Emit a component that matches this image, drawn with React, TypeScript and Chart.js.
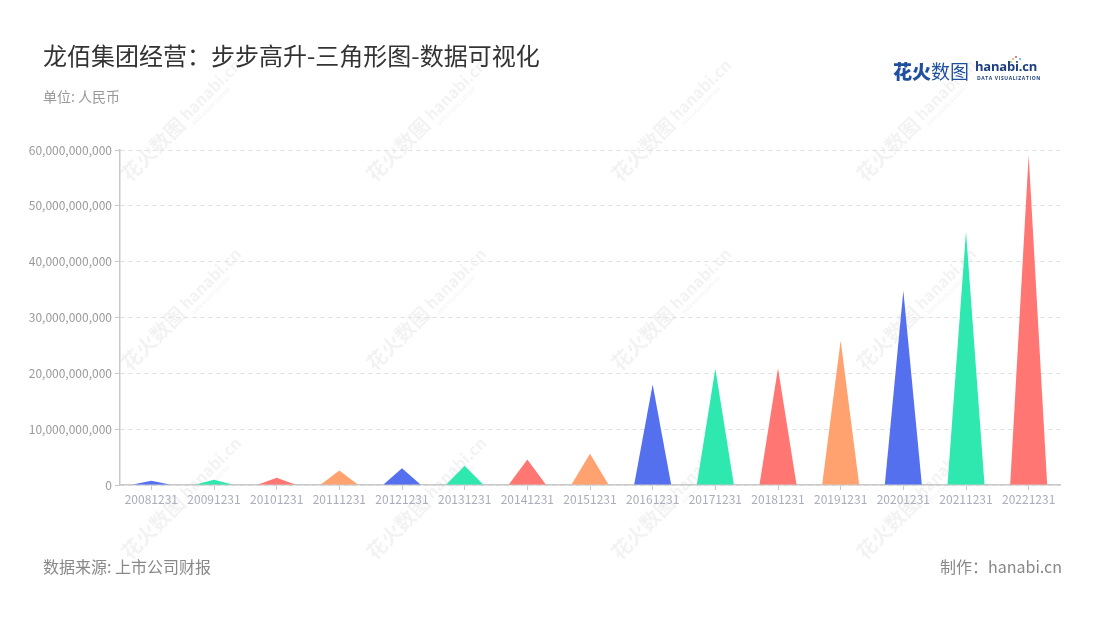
import React, { useEffect, useRef } from "react";
import { Chart, registerables } from "chart.js";

Chart.register(...registerables);

const categories = [
  "20081231", "20091231", "20101231", "20111231", "20121231",
  "20131231", "20141231", "20151231", "20161231", "20171231",
  "20181231", "20191231", "20201231", "20211231", "20221231",
];
const revenue = [
  0.78e9, 0.95e9, 1.3e9, 2.6e9, 3.0e9,
  3.45e9, 4.55e9, 5.6e9, 18.0e9, 20.8e9,
  20.9e9, 25.9e9, 34.8e9, 45.4e9, 59.1e9,
];
const palette = ["#5470ef", "#2ee8af", "#ff7672", "#ffa26f"];
const yMax = 60e9;
const yStep = 10e9;

const FONT = '"Noto Sans CJK SC", "Noto Sans", sans-serif';

const trianglePlugin = {
  id: "triangles",
  afterDatasetsDraw(chart: any) {
    const ctx = chart.ctx;
    const meta = chart.getDatasetMeta(0);
    ctx.save();
    meta.data.forEach((el: any, i: number) => {
      const p = el.getProps(["x", "y", "base", "width"], true);
      ctx.beginPath();
      ctx.moveTo(p.x - p.width / 2, p.base);
      ctx.lineTo(p.x, p.y);
      ctx.lineTo(p.x + p.width / 2, p.base);
      ctx.closePath();
      ctx.fillStyle = palette[i % palette.length];
      ctx.fill();
    });
    ctx.restore();
  },
};

const watermarkPlugin = {
  id: "watermark",
  beforeDraw(chart: any) {
    const ctx = chart.ctx;
    ctx.save();
    const xs = [130, 375, 620, 865];
    const ys = [183, 372, 561];
    ctx.fillStyle = "rgba(0,0,0,0.05)";
    ctx.textBaseline = "alphabetic";
    xs.forEach((x) => {
      ys.forEach((y) => {
        ctx.save();
        ctx.translate(x, y);
        ctx.rotate(-Math.PI / 4);
        ctx.font = `bold 20px ${FONT}`;
        ctx.fillText("花火数图", 0, 0);
        const w = ctx.measureText("花火数图").width;
        ctx.font = `bold 16px ${FONT}`;
        ctx.fillText("hanabi.cn", w + 4, -3);
        ctx.font = `bold 5px ${FONT}`;
        ctx.fillText("DATA VISUALIZATION", w + 6, 5);
        ctx.restore();
      });
    });
    ctx.restore();
  },
};

export default function App() {
  const canvasRef = useRef<HTMLCanvasElement | null>(null);

  useEffect(() => {
    if (!canvasRef.current) return;
    const chart = new Chart(canvasRef.current, {
      type: "bar",
      data: {
        labels: categories,
        datasets: [
          {
            data: revenue,
            backgroundColor: "rgba(0,0,0,0)",
            borderWidth: 0,
            barPercentage: 0.59,
            categoryPercentage: 1,
          },
        ],
      },
      options: {
        responsive: false,
        animation: false,
        layout: { padding: { left: 0, top: 150, right: 40, bottom: 0 } },
        plugins: {
          legend: { display: false },
          tooltip: { enabled: false },
        },
        scales: {
          x: {
            offset: true,
            grid: {
              offset: false,
              drawOnChartArea: false,
              drawTicks: true,
              tickLength: 5,
              tickColor: "#c8c8c8",
              tickWidth: 1,
            },
            border: { color: "#c8c8c8", width: 1.5 },
            ticks: {
              color: "#a9adbb",
              font: { family: FONT, size: 12 },
              padding: 2,
              maxRotation: 0,
              autoSkip: false,
            },
            afterFit(scale: any) {
              scale.height = 135;
            },
          },
          y: {
            min: 0,
            max: yMax,
            ticks: {
              stepSize: yStep,
              color: "#9a9a9a",
              font: { family: FONT, size: 12 },
              padding: 3,
              callback: (v: any) => Number(v).toLocaleString("en-US"),
            },
            grid: {
              color: "#e0e0e0",
              lineWidth: 1,
              tickBorderDash: [],
              tickColor: "#c8c8c8",
              tickLength: 5,
              drawTicks: true,
            },
            border: { color: "#c8c8c8", width: 1.5, dash: [4, 4] },
            afterFit(scale: any) {
              scale.width = 120;
            },
          },
        },
      },
      plugins: [watermarkPlugin, trianglePlugin],
    });
    return () => chart.destroy();
  }, []);

  const abs: React.CSSProperties = { position: "absolute", whiteSpace: "nowrap", fontFamily: FONT };

  return (
    <div style={{ position: "absolute", left: 0, top: 0, width: 1100, height: 620, background: "#fff", overflow: "hidden" }}>
      <canvas ref={canvasRef} width={1100} height={620} style={{ position: "absolute", left: 0, top: 0, width: 1100, height: 620 }} />
      <div style={{ ...abs, left: 43, top: 43, fontSize: 24, lineHeight: "24px", color: "#333333" }}>
        龙佰集团经营：步步高升-三角形图-数据可视化
      </div>
      <div style={{ ...abs, left: 43, top: 89, fontSize: 14, lineHeight: "14px", color: "#999999" }}>
        单位: 人民币
      </div>
      <div style={{ ...abs, left: 43, top: 558, fontSize: 16, lineHeight: "16px", color: "#888888" }}>
        数据来源: 上市公司财报
      </div>
      <div style={{ ...abs, right: 38, top: 558, fontSize: 16, lineHeight: "16px", color: "#888888" }}>
        制作：hanabi.cn
      </div>
      <div style={{ ...abs, left: 893, top: 61, fontSize: 19, lineHeight: "19px", color: "#1f4f9f" }}>
        <span style={{ fontWeight: 900 }}>花火</span>
        <span style={{ fontWeight: 400 }}>数图</span>
      </div>
      <div style={{ ...abs, left: 975, top: 60, fontSize: 13, lineHeight: "13px", color: "#1d3f80", fontWeight: 700, fontFamily: '"Open Sans", sans-serif', letterSpacing: -0.2 }}>
        hanabi.cn
      </div>
      <div style={{ ...abs, left: 977, top: 76, fontSize: 5, lineHeight: "5px", color: "#1d3f80", fontWeight: 700, letterSpacing: 0.6, fontFamily: '"Open Sans", sans-serif' }}>
        DATA VISUALIZATION
      </div>
      <div style={{ position: "absolute", left: 1012, top: 58, width: 2, height: 2, borderRadius: 1, background: "#f6a13a" }} />
      <div style={{ position: "absolute", left: 1015, top: 56, width: 2, height: 2, borderRadius: 1, background: "#e94b6a" }} />
      <div style={{ position: "absolute", left: 1019, top: 58, width: 2, height: 2, borderRadius: 1, background: "#4db6e8" }} />
      <div style={{ position: "absolute", left: 1010, top: 61, width: 2, height: 2, borderRadius: 1, background: "#8ed04c" }} />
    </div>
  );
}
